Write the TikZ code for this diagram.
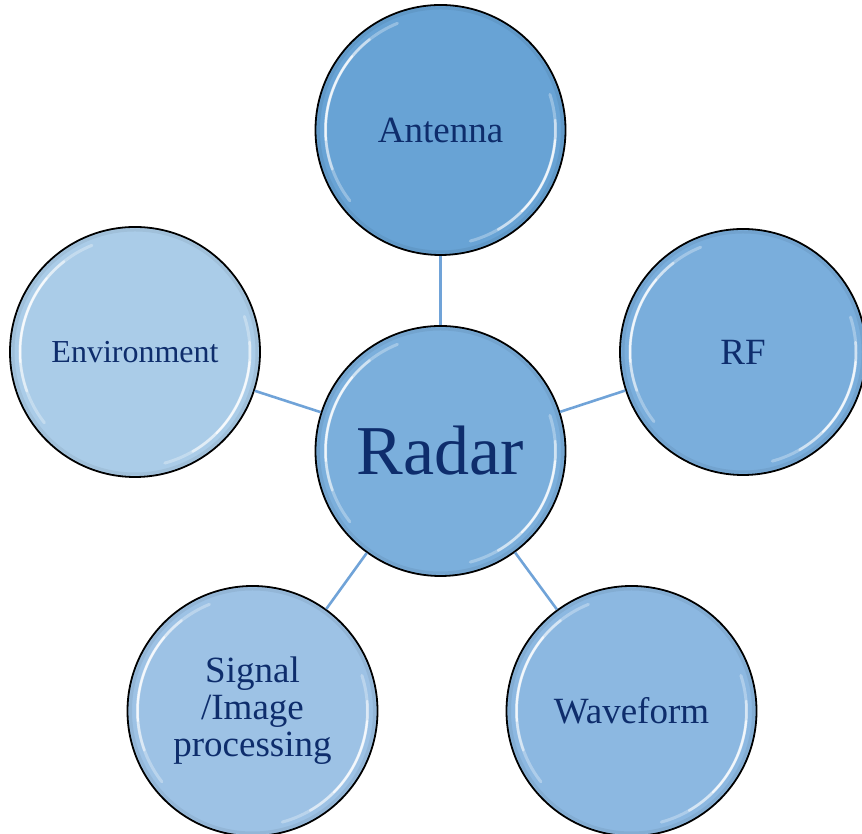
\documentclass[tikz,border=0pt]{standalone}
\usepackage{fontspec}
\setmainfont{Liberation Serif}
\definecolor{txt}{HTML}{0E2D6C}
\definecolor{cAnt}{HTML}{68A3D5}
\definecolor{cRF}{HTML}{7AAEDC}
\definecolor{cRad}{HTML}{7BAFDC}
\definecolor{cEnv}{HTML}{AACCE8}
\definecolor{cSig}{HTML}{9DC2E5}
\definecolor{cWav}{HTML}{8CB8E1}
\definecolor{cLine}{HTML}{70A3D8}
\newcommand\glossy[2]{%
  \begin{scope}[shift={(#1.center)}]
    \draw[black, opacity=.06, line width=3pt] (0,0) circle[radius=#2+2];
    \draw[white, opacity=.30, line width=3pt, line cap=round] (112:#2-5) arc[start angle=112,end angle=218,radius=#2-5];
    \draw[white, opacity=.5, line width=2.5pt, line cap=round] (128:#2-5) arc[start angle=128,end angle=200,radius=#2-5];
    \draw[white, opacity=.7, line width=2pt, line cap=round] (140:#2-5) arc[start angle=140,end angle=185,radius=#2-5];
    \draw[white, opacity=.30, line width=3pt, line cap=round] (-75:#2-5) arc[start angle=-75,end angle=18,radius=#2-5];
    \draw[white, opacity=.5, line width=2.5pt, line cap=round] (-60:#2-5) arc[start angle=-60,end angle=5,radius=#2-5];
    \draw[white, opacity=.7, line width=2pt, line cap=round] (-45:#2-5) arc[start angle=-45,end angle=-5,radius=#2-5];
  \end{scope}}
\begin{document}
\begin{tikzpicture}[x=1pt,y=1pt,
  bubble/.style={circle, draw=black, line width=1.8pt, minimum size=250pt, inner sep=0pt,
    text=txt, align=center, font=\fontsize{37}{37}\selectfont},
  conn/.style={draw=cLine, line width=2.6pt}]
\useasboundingbox (0,0) rectangle (862,834);
\clip (0,0) rectangle (862,834);
\node[bubble, fill=cRad, font=\fontsize{70}{70}\selectfont] (radar) at (440.5,383) {Radar};
\node[bubble, fill=cAnt] (antenna) at (440.5,704) {Antenna};
\node[bubble, fill=cEnv, font=\fontsize{32}{32}\selectfont] (env) at (135,482) {Environment};
\node[bubble, fill=cRF, minimum size=246pt] (rf) at (743,482) {RF};
\node[bubble, fill=cSig] (sig) at (252.5,123) {Signal\\/Image\\processing};
\node[bubble, fill=cWav] (wav) at (631.5,123) {Waveform};
\draw[conn] (radar) -- (antenna);
\draw[conn] (radar) -- (env);
\draw[conn] (radar) -- (rf);
\draw[conn] (radar) -- (sig);
\draw[conn] (radar) -- (wav);
\glossy{radar}{120}
\glossy{antenna}{120}
\glossy{env}{120}
\glossy{rf}{118}
\glossy{sig}{120}
\glossy{wav}{120}
\end{tikzpicture}
\end{document}
